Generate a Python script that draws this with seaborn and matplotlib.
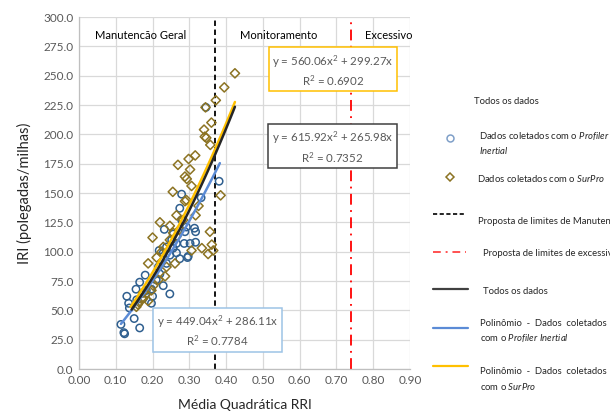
import numpy as np
import pandas as pd
import matplotlib
matplotlib.use("Agg")
import matplotlib.pyplot as plt
from matplotlib.lines import Line2D
from matplotlib.ticker import MultipleLocator, FormatStrFormatter
import seaborn as sns

# ---------------- data ----------------
profiler_x = [0.114, 0.122, 0.124, 0.130, 0.135, 0.137, 0.150, 0.155, 0.165, 0.165, 0.180,
              0.157, 0.197, 0.200, 0.210, 0.218, 0.229, 0.232, 0.247, 0.247, 0.252, 0.256,
              0.265, 0.274, 0.279, 0.286, 0.288, 0.295, 0.297, 0.302, 0.314, 0.317, 0.317,
              0.332, 0.345, 0.381, 0.274, 0.238, 0.220, 0.216, 0.197, 0.183, 0.174, 0.292,
              0.279, 0.256, 0.265, 0.238, 0.229]
profiler_y = [38, 31, 30, 62, 56, 52, 43, 68, 35, 74, 80,
              59, 56, 62, 76, 101, 71, 119, 64, 97, 110, 103,
              107, 137, 149, 107, 117, 95, 96, 107, 120, 117, 108,
              146, 223, 160, 94, 90, 81, 87, 68, 67, 60, 121,
              127, 115, 99, 104, 99]

surpro_x = [0.424, 0.395, 0.372, 0.344, 0.340, 0.360, 0.342, 0.346, 0.357, 0.316, 0.298,
            0.269, 0.302, 0.288, 0.293, 0.306, 0.255, 0.385, 0.288, 0.325, 0.317, 0.265,
            0.220, 0.247, 0.356, 0.200, 0.361, 0.334, 0.306, 0.351, 0.365, 0.229, 0.225,
            0.211, 0.188, 0.261, 0.238, 0.234, 0.216, 0.202, 0.197, 0.183, 0.174, 0.163,
            0.156, 0.160, 0.188, 0.174, 0.256, 0.247, 0.265, 0.274, 0.283, 0.292]
surpro_y = [252, 240, 229, 223, 204, 210, 198, 197, 191, 182, 179,
            174, 170, 164, 162, 156, 151, 148, 143, 139, 131, 131,
            125, 122, 117, 112, 106, 103, 101, 98, 101, 104, 100,
            95, 90, 90, 87, 79, 76, 71, 67, 64, 60, 57,
            53, 55, 58, 65, 116, 110, 113, 119, 127, 144]

# trendlines  y = a x^2 + b x  (coefficients shown on the chart)
fit_names = ["all", "profiler", "surpro"]
fit_a = [615.92, 449.04, 560.06]
fit_b = [265.98, 286.11, 299.27]
fit_r2 = [0.7352, 0.7784, 0.6902]
fit_xmin = [0.143, 0.114, 0.140]
fit_xmax = [0.424, 0.383, 0.424]

limit_manut = 0.37
limit_exc = 0.74

region_labels = ["Manutencão Geral", "Monitoramento", "Excessivo"]
region_x = [0.043, 0.437, 0.777]

# ---------------- style ----------------
sns.set_theme(style="white")
plt.rcParams["font.family"] = ["Lato", "DejaVu Sans"]
plt.rcParams["mathtext.fontset"] = "custom"
plt.rcParams["mathtext.it"] = "Lato:italic"
plt.rcParams["mathtext.rm"] = "Lato"

c_prof = "#2F5F8F"
c_surp = "#8C7322"
c_fit_all = "#262626"
c_fit_prof = "#5B8BD6"
c_fit_surp = "#FFC000"
grey_txt = "#595959"

fig = plt.figure(figsize=(6.10, 4.17), dpi=100)
ax = fig.add_axes([79 / 610, 1 - 369 / 417, (410 - 79) / 610, (369 - 17) / 417])

# grid
ax.set_xlim(0, 0.9)
ax.set_ylim(0, 300)
ax.xaxis.set_major_locator(MultipleLocator(0.1))
ax.yaxis.set_major_locator(MultipleLocator(25))
ax.xaxis.set_minor_locator(MultipleLocator(0.02))
ax.yaxis.set_minor_locator(MultipleLocator(5))
ax.xaxis.set_major_formatter(FormatStrFormatter("%.2f"))
ax.yaxis.set_major_formatter(FormatStrFormatter("%.1f"))
ax.grid(True, which="major", color="#D9D9D9", lw=0.9)
ax.set_axisbelow(True)
for s in ["top", "right"]:
    ax.spines[s].set_visible(False)
for s in ["left", "bottom"]:
    ax.spines[s].set_color("#BFBFBF")
    ax.spines[s].set_linewidth(0.9)
ax.tick_params(axis="both", which="major", labelsize=8.5, labelcolor=grey_txt,
               length=0, pad=4)
ax.tick_params(axis="both", which="minor", direction="in", length=3, color="#BFBFBF",
               width=0.8)

# vertical limits
ax.axvline(limit_manut, color="black", ls=(0, (3, 2)), lw=1.3, zorder=2)
ax.axvline(limit_exc, color="#FF0000", ls=(0, (6, 3, 1, 3)), lw=1.3, zorder=2)

# scatter
df_p = pd.DataFrame({"x": profiler_x, "y": profiler_y})
df_s = pd.DataFrame({"x": surpro_x, "y": surpro_y})
sns.scatterplot(data=df_p, x="x", y="y", ax=ax, marker="o", s=28,
                facecolor="none", edgecolor=c_prof, linewidth=1.1, zorder=3)
sns.scatterplot(data=df_s, x="x", y="y", ax=ax, marker="D", s=22,
                facecolor="none", edgecolor=c_surp, linewidth=1.1, zorder=3)

# trendlines
fit_colors = {"all": c_fit_all, "profiler": c_fit_prof, "surpro": c_fit_surp}
fit_z = {"all": 5, "profiler": 4, "surpro": 4}
for name, a, b, x0, x1 in zip(fit_names, fit_a, fit_b, fit_xmin, fit_xmax):
    xs = np.linspace(x0, x1, 60)
    d = pd.DataFrame({"x": xs, "y": a * xs ** 2 + b * xs})
    sns.lineplot(data=d, x="x", y="y", ax=ax, color=fit_colors[name], lw=1.8,
                 zorder=fit_z[name])

ax.set_xlabel("Média Quadrática RRI", fontsize=10, color="#262626", labelpad=10)
ax.set_ylabel("IRI (polegadas/milhas)", fontsize=10.5, color="#262626", labelpad=8)

# region labels
for lab, rx in zip(region_labels, region_x):
    ax.text(rx, 284, lab, fontsize=8, color="black", va="center", ha="left")

# equation boxes
box_specs = [
    ("surpro", 0.690, 254.5, c_fit_surp),
    ("all", 0.689, 189.0, "#404040"),
    ("profiler", 0.376, 32.4, "#9DC3E6"),
]
lookup = {n: (a, b, r) for n, a, b, r in zip(fit_names, fit_a, fit_b, fit_r2)}
for name, bx, by, ec in box_specs:
    a, b, r = lookup[name]
    txt = f"y = {a:.2f}x$^{{2}}$ + {b:.2f}x\nR$^{{2}}$ = {r:.4f}"
    ax.text(bx, by, txt, fontsize=8.3, color=grey_txt, ha="center", va="center",
            linespacing=1.3, zorder=6,
            bbox=dict(boxstyle="square,pad=0.3", fc="white", ec=ec, lw=1.1))

# ---------------- legend (manual, figure coordinates) ----------------
def fx(px):
    return px / 610

def fy(py):
    return 1 - py / 417

lfs = 6.8
fig.text(fx(474), fy(102), "Todos os dados", fontsize=lfs, va="center", ha="left")

fig.add_artist(Line2D([fx(450)], [fy(138)], marker="o", ms=5, mfc="none",
                      mec="#7F9FC8", mew=1.1, ls="none"))
fig.text(fx(479), fy(136), r"Dados coletados com o $\mathit{Profiler}$",
         fontsize=lfs, va="center", ha="left")
fig.text(fx(479), fy(150), r"$\mathit{Inertial}$", fontsize=lfs, va="center", ha="left")

fig.add_artist(Line2D([fx(450)], [fy(177)], marker="D", ms=4, mfc="none",
                      mec=c_surp, mew=1.1, ls="none"))
fig.text(fx(477), fy(178), r"Dados coletados com o $\mathit{SurPro}$",
         fontsize=lfs, va="center", ha="left")

fig.add_artist(Line2D([fx(433), fx(466)], [fy(214), fy(214)], color="black",
                      ls=(0, (2.5, 1.5)), lw=1.2))
fig.text(fx(478), fy(221), "Proposta de limites de Manutenção", fontsize=lfs,
         va="center", ha="left")

fig.add_artist(Line2D([fx(433), fx(466)], [fy(252), fy(252)], color="#FF5050",
                      ls=(0, (4, 2.5, 1, 2.5)), lw=1.4))
fig.text(fx(483), fy(254), "Proposta de limites de excessivos", fontsize=lfs,
         va="center", ha="left")

fig.add_artist(Line2D([fx(433), fx(468)], [fy(289), fy(289)], color="#404040", lw=1.6))
fig.text(fx(483), fy(291), "Todos os dados", fontsize=lfs, va="center", ha="left")

fig.add_artist(Line2D([fx(433), fx(468)], [fy(328), fy(328)], color=c_fit_prof, lw=1.6))
fig.text(fx(480), fy(323), "Polinômio  -  Dados  coletados", fontsize=lfs,
         va="center", ha="left")
fig.text(fx(480), fy(338), r"com o $\mathit{Profiler\ Inertial}$", fontsize=lfs,
         va="center", ha="left")

fig.add_artist(Line2D([fx(433), fx(468)], [fy(366), fy(366)], color=c_fit_surp, lw=1.6))
fig.text(fx(480), fy(372), "Polinômio  -  Dados  coletados", fontsize=lfs,
         va="center", ha="left")
fig.text(fx(480), fy(386), r"com o $\mathit{SurPro}$", fontsize=lfs,
         va="center", ha="left")

fig.savefig("out.png", dpi=100)
